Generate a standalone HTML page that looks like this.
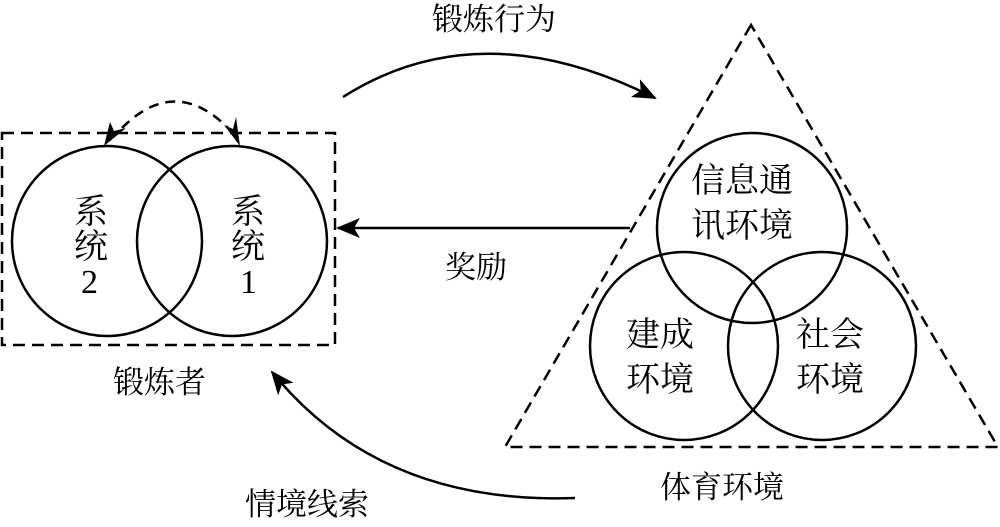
<!DOCTYPE html>
<html><head><meta charset="utf-8"><style>
body{margin:0;background:#fff}
svg{display:block}
text{font-family:"Liberation Serif","Noto Serif CJK SC",serif;font-size:31px;fill:#000}
.b{font-size:34px}
</style></head><body>
<svg width="1000" height="527" viewBox="0 0 1000 527">
<defs>
<marker id="b" viewBox="0 0 24 20" refX="22" refY="10" markerWidth="24" markerHeight="20" markerUnits="userSpaceOnUse" orient="auto">
<path d="M0,0 L24,10 L0,20 L6,10 Z" fill="#000"/>
</marker>
</defs>
<g fill="none" stroke="#000" stroke-width="2.5">
<rect x="2" y="133" width="333" height="212" stroke-dasharray="12,7"/>
<circle cx="107" cy="241" r="95"/>
<circle cx="232" cy="241" r="95"/>
<path d="M122,128 Q175,75 228,128" stroke-dasharray="10,7"/>
<polygon points="751,25 505,447 998,447" stroke-dasharray="12,7"/>
<circle cx="752" cy="228" r="95"/>
<circle cx="684" cy="346" r="94"/>
<circle cx="822" cy="346" r="94"/>
<path d="M343,97 Q480,10 655,98" marker-end="url(#b)"/>
<path d="M630,228 L338,228" marker-end="url(#b)"/>
<path d="M575,498 Q380,505 272,372" marker-end="url(#b)"/>
</g>
<path d="M240,146 L224,125 L233,129 L236,117 Z" fill="#000"/>
<path d="M104,146 L110,122 L114,131 L126,128 Z" fill="#000"/>
<text x="432" y="30">锻炼行为</text>
<text x="445" y="278">奖励</text>
<text x="113" y="393">锻炼者</text>
<text x="245" y="515">情境线索</text>
<text x="660" y="498">体育环境</text>
<text class="b" x="74" y="223">系</text><text class="b" x="74" y="258">统</text><text class="b" x="81" y="293">2</text>
<text class="b" x="231" y="223">系</text><text class="b" x="231" y="258">统</text><text class="b" x="240" y="293">1</text>
<text class="b" x="691" y="192">信息通</text><text class="b" x="691" y="237">讯环境</text>
<text class="b" x="626" y="346">建成</text><text class="b" x="626" y="391">环境</text>
<text class="b" x="796" y="346">社会</text><text class="b" x="796" y="391">环境</text>
</svg>
</body></html>
